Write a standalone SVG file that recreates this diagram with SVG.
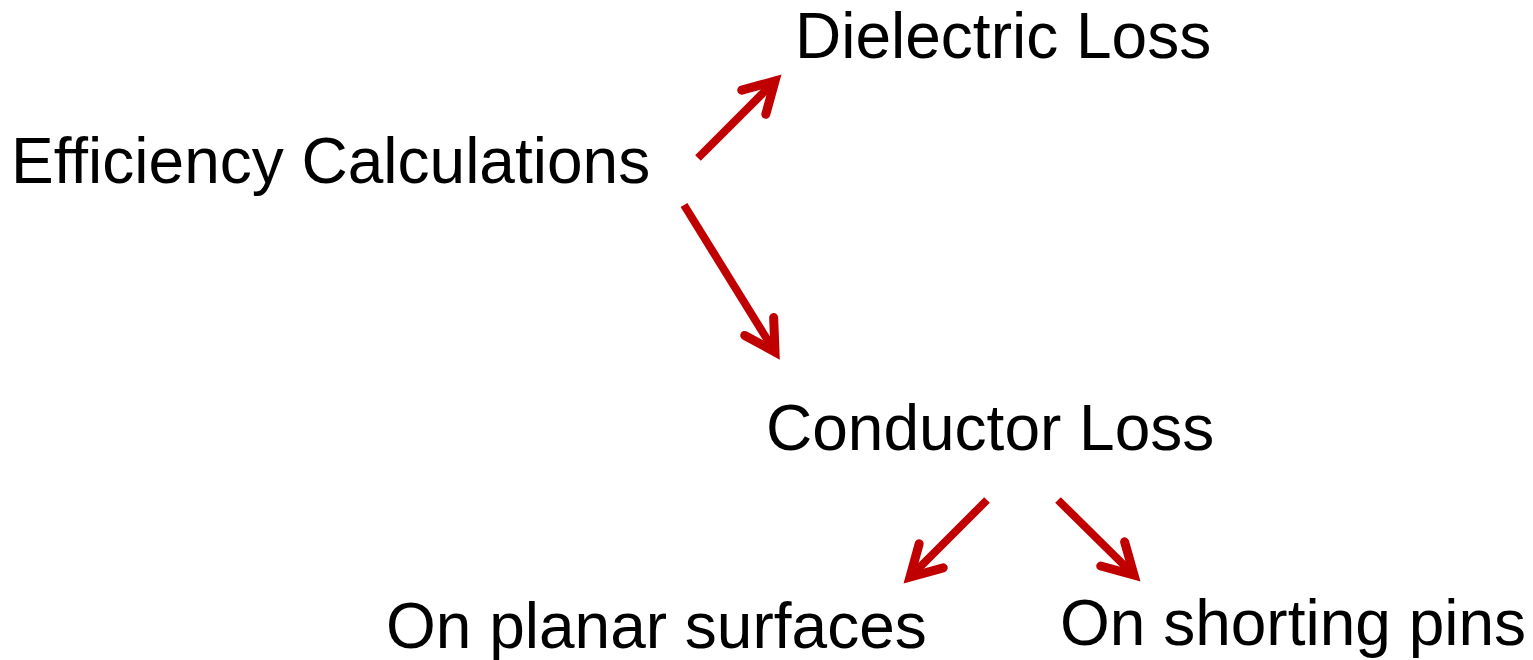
<svg xmlns="http://www.w3.org/2000/svg" width="1533" height="660" viewBox="0 0 1533 660">
  <style>
    .label { font-family: "Liberation Sans", Arial, sans-serif; font-size: 64px; fill: #000; }
    .conn { stroke: #C00000; stroke-width: 8; fill: none; marker-end: url(#chev); }
  </style>
  <defs>
    <!-- open chevron arrowhead shared by all connectors -->
    <marker id="chev" markerUnits="userSpaceOnUse" viewBox="-40 -25 50 50" markerWidth="50" markerHeight="50" refX="0" refY="0" orient="auto" overflow="visible">
      <path d="M -30 -17 L 0 0 L -30 17" fill="none" stroke="#C00000" stroke-width="9" stroke-linecap="round" stroke-linejoin="miter"/>
    </marker>
  </defs>
  <rect width="1533" height="660" fill="#fff"/>

  <g id="efficiency"><text class="label" x="11" y="183">Efficiency Calculations</text></g>
  <g id="dielectric"><text class="label" x="795" y="58">Dielectric Loss</text></g>
  <g id="conductor"><text class="label" x="766" y="450">Conductor Loss</text></g>
  <g id="planar"><text class="label" x="386" y="648">On planar surfaces</text></g>
  <g id="pins"><text class="label" x="1060" y="645">On shorting pins</text></g>

  <g id="connectors">
    <line class="conn" x1="698" y1="158" x2="775" y2="81"/>
    <line class="conn" x1="684" y1="205" x2="775" y2="352"/>
    <line class="conn" x1="987" y1="500" x2="910" y2="577"/>
    <line class="conn" x1="1058" y1="500" x2="1134" y2="575"/>
  </g>
</svg>
